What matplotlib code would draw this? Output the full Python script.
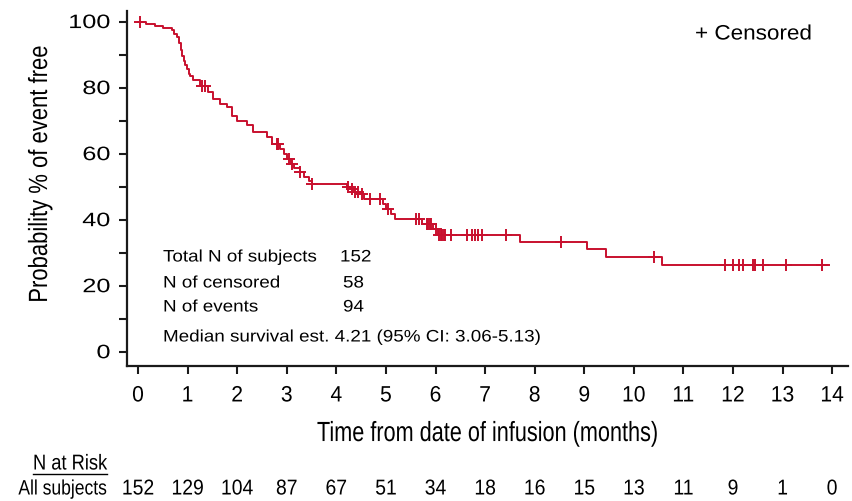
import matplotlib
matplotlib.use("Agg")
import matplotlib.pyplot as plt
import numpy as np
from matplotlib import transforms
from matplotlib.patheffects import AbstractPathEffect
from matplotlib.transforms import Affine2D

# Kaplan-Meier step curve: event times (months) and survival (%) after each event
event_times = [0.0, 0.17, 0.34, 0.51, 0.68, 0.72, 0.79, 0.83, 0.86, 0.88, 0.92, 0.95,
               0.98, 1.02, 1.05, 1.11, 1.25, 1.42, 1.52, 1.65, 1.79, 1.89, 1.99,
               2.19, 2.32, 2.60, 2.70, 2.86, 2.95, 3.00, 3.08, 3.15, 3.27, 3.35,
               3.45, 3.50, 4.21, 4.28, 4.36, 4.47, 4.55, 4.95, 5.00, 5.10, 5.18,
               5.72, 5.94, 6.04, 7.71, 9.06, 9.44, 10.57]
survival = [100.0, 99.3, 98.7, 98.0, 97.4, 96.1, 95.4, 93.4, 91.4, 89.5, 88.2, 86.8,
            85.5, 84.2, 83.5, 82.2, 80.5, 78.6, 76.6, 75.1, 74.1, 71.5, 70.0,
            68.7, 66.5, 65.0, 62.9, 61.5, 60.0, 58.4, 57.0, 55.6, 54.4, 53.0,
            51.8, 50.8, 49.9, 49.2, 48.5, 47.7, 46.3, 44.8, 43.3, 41.7, 40.2,
            38.7, 37.2, 35.3, 33.1, 31.1, 28.6, 26.3]
last_followup = 13.93

censor_times = [0.03, 1.30, 1.36, 2.80, 2.83, 3.05, 3.10, 3.27, 3.50,
                4.24, 4.31, 4.38, 4.44, 4.51, 4.68, 4.88, 5.04,
                5.60, 5.67, 5.82, 5.85, 5.88, 5.91, 6.00,
                6.08, 6.11, 6.14, 6.17, 6.19, 6.32, 6.63, 6.73, 6.79, 6.86, 6.93,
                7.42, 8.53, 10.40, 11.83, 12.00, 12.12, 12.20, 12.41, 12.44,
                12.61, 13.06, 13.80]

risk_times = list(range(0, 15))
n_at_risk = [152, 129, 104, 87, 67, 51, 34, 18, 16, 15, 13, 11, 9, 1, 0]

summary_labels = ["Total N of subjects", "N of censored", "N of events"]
summary_values = ["152", "58", "94"]
median_text = "Median survival est. 4.21 (95% CI: 3.06-5.13)"

red = "#c8102e"
font = ["Liberation Sans", "DejaVu Sans"]


class Stretch(AbstractPathEffect):
    """Scale glyphs along the text direction, keeping the given alignment."""

    def __init__(self, sx, align="center"):
        super().__init__()
        self.sx = sx
        self.align = align

    def draw_path(self, renderer, gc, tpath, affine, rgbFace=None):
        w = tpath.vertices[:, 0].max() if len(tpath.vertices) else 0.0
        frac = {"left": 0.0, "center": 0.5, "right": 1.0}[self.align]
        pre = Affine2D().scale(self.sx, 1.0).translate((1 - self.sx) * w * frac, 0)
        renderer.draw_path(gc, tpath, pre + affine, rgbFace)


def stretch(sx, align):
    return [Stretch(sx, align)]


fig = plt.figure(figsize=(8.53, 5.02), dpi=100)
ax = fig.add_axes([0.1489, 0.2689, 0.8453, 0.7072])

xs = event_times + [last_followup]
ys = survival + [survival[-1]]
ax.step(xs, ys, where="post", color=red, lw=1.4, zorder=3)


def surv_at(t):
    idx = np.searchsorted(event_times, t, side="right") - 1
    return survival[idx]


cy = [surv_at(t) for t in censor_times]
ax.plot(censor_times, cy, ls="none", marker="+", ms=9, mew=1.4, color=red, zorder=4)

ax.set_xlim(-0.222, 14.32)
ax.set_ylim(-4.33, 103.2)
ax.set_xticks(range(0, 15))
ax.set_yticks(range(0, 101, 10))
ax.set_yticklabels([str(v) if v % 20 == 0 else "" for v in range(0, 101, 10)])

for s in ("top", "right"):
    ax.spines[s].set_visible(False)
for s in ("left", "bottom"):
    ax.spines[s].set_linewidth(1.6)
    ax.spines[s].set_color("#1a1a1a")
ax.tick_params(axis="both", direction="out", length=6, width=1.5, color="#1a1a1a")
ax.tick_params(axis="x", pad=8)
ax.tick_params(axis="y", pad=6)

for lab in ax.get_xticklabels():
    lab.set_fontfamily(font)
    lab.set_fontsize(16)
    lab.set_path_effects(stretch(0.95, "center"))
for lab in ax.get_yticklabels():
    lab.set_fontfamily(font)
    lab.set_fontsize(14)
    lab.set_path_effects(stretch(1.3, "right"))

ax.set_xlabel("Time from date of infusion (months)", fontfamily=font, fontsize=20,
              path_effects=stretch(0.78, "center"))
ax.xaxis.set_label_coords(0.5, -0.155)
ax.set_ylabel("Probability % of event free", fontfamily=font, fontsize=19,
              path_effects=stretch(0.835, "center"))
ax.yaxis.set_label_coords(-0.104, 0.541)

# censor key
fig.text(695 / 853, 1 - 35 / 502, "+ Censored", fontfamily=font, fontsize=15,
         ha="left", va="center", path_effects=stretch(1.08, "left"))

# summary block
rows_y = [258, 284, 308]
for lab, val, yy in zip(summary_labels, summary_values, rows_y):
    fig.text(163 / 853, 1 - yy / 502, lab, fontfamily=font, fontsize=12,
             ha="left", va="center", path_effects=stretch(1.13, "left"))
    fig.text((340 if len(val) == 3 else 343) / 853, 1 - yy / 502, val, fontfamily=font,
             fontsize=12, ha="left", va="center", path_effects=stretch(1.13, "left"))
fig.text(163 / 853, 1 - 338 / 502, median_text, fontfamily=font, fontsize=12,
         ha="left", va="center", path_effects=stretch(1.13, "left"))

# number-at-risk table
trans = transforms.blended_transform_factory(ax.transData, fig.transFigure)
fig.text(107 / 853, 1 - 465 / 502, "N at Risk", fontfamily=font, fontsize=15.5,
         ha="right", va="center", path_effects=stretch(0.85, "right"))
fig.add_artist(plt.Line2D([33 / 853, 107 / 853], [1 - 475 / 502] * 2,
                          color="black", lw=1.0, transform=fig.transFigure))
fig.text(107 / 853, 1 - 490 / 502, "All subjects", fontfamily=font, fontsize=15,
         ha="right", va="center", path_effects=stretch(0.84, "right"))
for t, n in zip(risk_times, n_at_risk):
    fig.text(t, 1 - 490 / 502, str(n), fontfamily=font, fontsize=15.5,
             ha="center", va="center", transform=trans,
             path_effects=stretch(0.9, "center"))

fig.savefig("out.png", dpi=100)
